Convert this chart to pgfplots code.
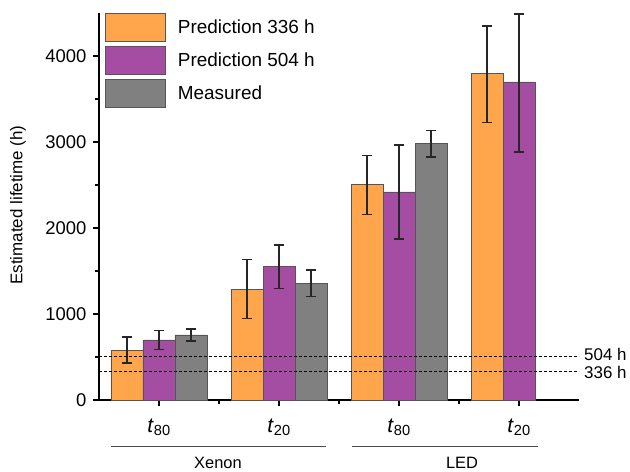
\documentclass[border=0pt]{standalone}
\usepackage{pgfplots}
\pgfplotsset{compat=1.18}
\usepackage{fontspec}
\setmainfont{Liberation Sans}
\definecolor{corange}{HTML}{FFA54C}
\definecolor{cpurple}{HTML}{A44DA3}
\definecolor{cgray}{HTML}{808080}
\definecolor{cedge}{HTML}{555555}
\pgfplotsset{mylegend/.style={legend image code/.code={\draw[##1,line width=0.8pt] (0bp,-14bp) rectangle (60bp,14bp); \path (70bp,0bp);}}}
\begin{document}
\begin{tikzpicture}
\begin{axis}[
  at={(0,0)}, anchor=south west,
  scale only axis, width=480bp, height=387bp,
  ybar, clip=false,
  xmin=-0.5, xmax=3.5, ymin=0, ymax=4500,
  axis x line=bottom, axis y line=left,
  axis line style={-, line width=1.3pt, black},
  tick style={line width=1.1pt, black},
  tick align=outside,
  major tick length=6bp, minor tick length=4bp,
  xtick={0,1,2,3},
  minor xtick={0.5,1.5,2.5},
  xticklabels={\textit{t}\textsubscript{80},\textit{t}\textsubscript{20},\textit{t}\textsubscript{80},\textit{t}\textsubscript{20}},
  xticklabel style={font=\fontsize{21}{24}\selectfont, yshift=-9bp},
  ytick={0,1000,2000,3000,4000},
  minor ytick={500,1500,2500,3500},
  yticklabel style={font=\fontsize{18.5}{22}\selectfont, xshift=-3bp},
  /pgf/number format/assume math mode=true,
  /pgf/number format/1000 sep={},
  ylabel={Estimated lifetime (h)},
  ylabel style={font=\fontsize{17}{20}\selectfont, at={(axis description cs:-0.169,0.504)}, anchor=center, rotate=0},
  legend style={at={(axis description cs:0.0125,1)}, anchor=north west, draw=none, fill=none, inner sep=0pt, row sep=4bp, font=\fontsize{19}{22}\selectfont, nodes={inner sep=2bp}},
  legend cell align=left,
]
\addplot[mylegend, fill=corange, draw=cedge, line width=0.6pt, bar width=32bp, bar shift=-32bp,
  error bars/.cd, y dir=both, y explicit,
  error bar style={line width=1.6pt, black!85},
  error mark options={rotate=90, mark size=5bp, line width=1.6pt, black!85}]
  table[x=x, y=y, y error plus=ep, y error minus=em] {
x y ep em
0 578 155 151
1 1287 349 341
2 2504 341 345
3 3798 554 570
};
\addplot[mylegend, fill=cpurple, draw=cedge, line width=0.6pt, bar width=32bp, bar shift=0bp,
  error bars/.cd, y dir=both, y explicit,
  error bar style={line width=1.6pt, black!85},
  error mark options={rotate=90, mark size=5bp, line width=1.6pt, black!85}]
  table[x=x, y=y, y error plus=ep, y error minus=em] {
x y ep em
0 698 112 113
1 1555 247 257
2 2419 546 547
3 3698 787 811
};
\addplot[mylegend, fill=cgray, draw=cedge, line width=0.6pt, bar width=32bp, bar shift=32bp,
  error bars/.cd, y dir=both, y explicit,
  error bar style={line width=1.6pt, black!85},
  error mark options={rotate=90, mark size=5bp, line width=1.6pt, black!85}]
  table[x=x, y=y, y error plus=ep, y error minus=em] {
x y ep em
0 756 70 70
1 1357 158 152
2 2984 152 155
};
\legend{Prediction 336 h, Prediction 504 h, Measured}
\addplot[sharp plot, black, dash pattern=on 3bp off 2bp, line width=1.2pt, forget plot] coordinates {(-0.5,504) (3.5,504)};
\addplot[sharp plot, black, dash pattern=on 3bp off 2bp, line width=1.2pt, forget plot] coordinates {(-0.5,336) (3.5,336)};
\node[anchor=west, font=\fontsize{17}{18}\selectfont, inner sep=0bp, xshift=5bp] at (axis cs:3.5,527) {504 h};
\node[anchor=west, font=\fontsize{17}{18}\selectfont, inner sep=0bp, xshift=5bp] at (axis cs:3.5,322) {336 h};
\end{axis}
\draw[black!70, line width=0.8pt] (12bp,-46bp) -- (227bp,-46bp);
\draw[black!70, line width=0.8pt] (253bp,-46bp) -- (439bp,-46bp);
\node[font=\fontsize{16.5}{18}\selectfont] at (119bp,-63bp) {Xenon};
\node[font=\fontsize{16.5}{18}\selectfont] at (363bp,-63bp) {LED};
\pgfresetboundingbox
\path (-99bp,-72bp) rectangle (531bp,400bp);
\end{tikzpicture}
\end{document}
